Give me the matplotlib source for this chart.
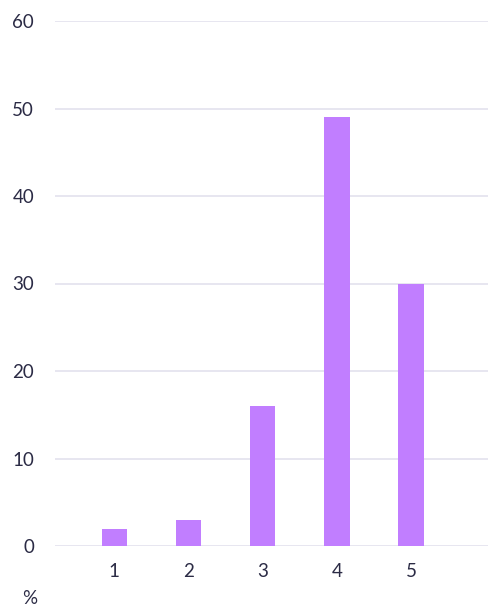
import matplotlib
matplotlib.use("Agg")
import matplotlib.pyplot as plt

# Share of responses per rating
ratings = [1, 2, 3, 4, 5]
percent = [2, 3, 16, 49, 30]
y_ticks = [0, 10, 20, 30, 40, 50, 60]

bar_color = "#C17EFF"
text_color = "#2B2B45"
grid_color = "#E3E1EE"

plt.rcParams["font.family"] = ["Lato", "DejaVu Sans"]

fig = plt.figure(figsize=(4.89, 6.06), dpi=100)
ax = fig.add_axes([55 / 489, 1 - 546 / 606, 1 - 55 / 489, 525 / 606])

ax.bar(ratings, percent, width=0.34, color=bar_color, zorder=3)

ax.set_xlim(0.2, 6.05)
ax.set_ylim(0, 60)
ax.set_xticks(ratings)
ax.set_yticks(y_ticks)

ax.grid(axis="y", color=grid_color, linewidth=1.2, zorder=0)
ax.set_axisbelow(True)
for s in ax.spines.values():
    s.set_visible(False)

ax.tick_params(axis="both", length=0, labelsize=13.5, labelcolor=text_color)
ax.tick_params(axis="x", pad=12)
ax.tick_params(axis="y", pad=15)

fig.text(22 / 489, 1 - 599 / 606, "%", fontsize=13.5, color=text_color,
         ha="left", va="center")

fig.savefig("out.png", dpi=100)
